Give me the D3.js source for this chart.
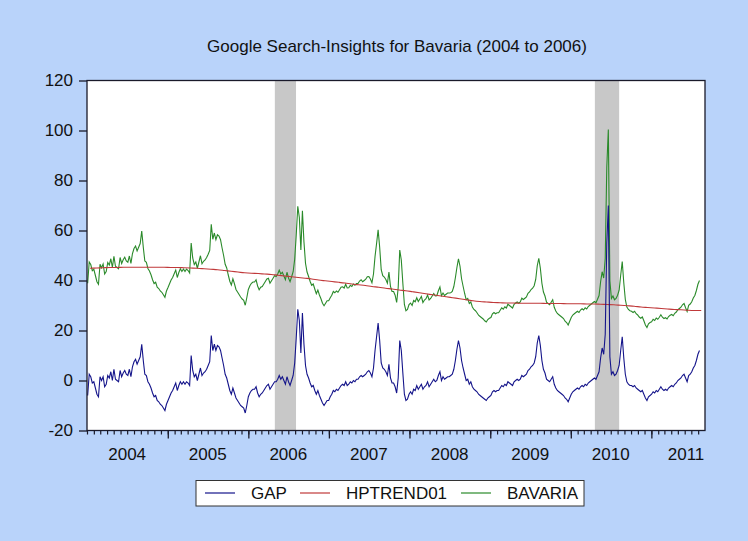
<!DOCTYPE html>
<html>
<head>
<meta charset="utf-8">
<script src="https://cdn.jsdelivr.net/npm/d3@7"></script>
<style>
  body { margin: 0; background: #b9d3fa; }
  svg { display: block; font-family: "Liberation Sans", Arial, sans-serif; }
</style>
</head>
<body>
<svg id="chart" width="748" height="541"></svg>
<script>
// weekly GAP values (BAVARIA minus HP trend), one array per year, first week 2004-01-04
const gap2004 = [-6, 2.5, 1.5, -1, -0.5, -3, -5.5, -6.5, 1.5, 0, 1.5, -2.5, -1.5, 2, 1, 3.5, 0, 4.5, 0.5, 0, -0.5, 4, 1.5, 3, 4, 2.5, 2, 4.5, 1.5, 5.5, 7.5, 8.5, 6.5, 8, 9.5, 14.5, 8, 2.5, 2, -0.5, -1.5, -3, -5, -6.5, -6, -8, -8.5, -9.5, -10, -11, -12, -9.5];
const gap2005 = [-8, -6.5, -5, -4, -2.5, -1, -4, -2, -0.5, -1.5, -0.5, -1.5, -0.5, -1, -2, 10, 4, 1.5, 2.5, 0, 2.5, 5, 2, 3, 3.5, 4.5, 6, 7.5, 18, 12, 14.5, 12, 14, 13.5, 12, 9, 6, 2.5, 1, -1.5, -4, -5.5, -3, -5, -7, -8, -9, -10, -10.5, -11, -13, -10];
const gap2006 = [-6.5, -5, -4, -3.5, -3.5, -2.5, -5, -6.5, -5.5, -5, -4, -3, -2, -1.5, -3.5, -2.5, -1.5, -0.5, -0.5, 0.5, 2, 0.5, 1.5, 0, -1.5, 1.5, -0.5, -2, 0, 2, 7, 17, 28.5, 24, 11, 27, 14.5, 6, 2.5, 1, -1, -2.5, -2, -4, -5.5, -4, -6, -7.5, -9, -10, -9, -8];
const gap2007 = [-8, -6.5, -5.5, -4, -4.5, -3.5, -4, -3, -2, -1.5, -2, -0.5, -2, -1.5, -0.5, -1, 0, -0.5, 0.5, 0.5, 1.5, 2, 1.5, 2, 2.5, 3.5, 4, 3, 1.5, 5, 12, 17.5, 23, 16, 7, 5, 4.5, 3.5, 2, 6.5, 1, -1, -1, -2.5, -5, 1, 16, 12, 3, -5.5, -8, -7.5];
const gap2008 = [-5.5, -4.5, -5.5, -3.5, -4, -2, -3.5, -2.5, -1.5, -3.5, -2.5, -2, -0.5, -2.5, -1.5, -0.5, 0.5, -0.5, 0, 2, 3.5, 0, 1.5, 0.5, 1, 1.5, 1.5, 2, 2.5, 4.5, 8, 12.5, 16, 13, 8, 5, 2.5, 0, 0.5, -1.5, -0.5, -2.5, -3.5, -4, -4.5, -5.5, -6, -6.5, -7, -7.5, -8, -7];
const gap2009 = [-6.5, -6, -4.5, -4, -4.5, -4, -4, -3, -2, -2.5, -1.5, -2, -0.5, -1, -1.5, -2, -0.5, 0, 0.5, 0, 0.5, 2, 1.5, 2, 2.5, 4, 4.5, 5.5, 6, 7, 9.5, 15, 18, 14, 8, 4.5, 3, 0.5, 0, -0.5, 0.5, 1.5, -1.5, -3, -4, -4.5, -5, -5.5, -6, -7, -7.5, -8.5];
const gap2010 = [-7, -5.5, -4.5, -4, -3.5, -3, -3.5, -2.5, -2, -2.5, -1.5, -2, -1, -0.5, 0, 0.5, 1, 0.5, 2, 3.5, 9, 13, 10.5, 18.5, 55, 70, 9.5, 2.5, 3.5, 2, 2.5, 4, 6, 12, 17.5, 9, 2.5, -0.5, -1.5, -2, -2, -2.5, -2, -3, -3.5, -4, -4.5, -4, -5.5, -7, -8, -6.5];
const gap2011 = [-6, -5.5, -4.5, -5, -4, -4.5, -3.5, -2.5, -3.5, -4, -3.5, -4, -3, -2.5, -2, -2.5, -1.5, -1, 0, 0.5, 1, 2, 2.5, 1, -0.5, 2, 2.5, 3.5, 5, 6, 8, 10.5, 12];

// monthly HP trend values
const trend2004 = [44.9, 45.0, 45.1, 45.2, 45.2, 45.3, 45.3, 45.3, 45.3, 45.3, 45.3, 45.3];
const trend2005 = [45.2, 45.2, 45.1, 45.0, 44.9, 44.7, 44.5, 44.3, 44.0, 43.7, 43.4, 43.1];
const trend2006 = [42.9, 42.8, 42.6, 42.4, 42.1, 41.8, 41.5, 41.2, 40.9, 40.6, 40.2, 39.9];
const trend2007 = [39.6, 39.3, 39.0, 38.6, 38.3, 38.0, 37.6, 37.3, 36.9, 36.6, 36.2, 35.9];
const trend2008 = [35.5, 35.1, 34.7, 34.3, 33.9, 33.5, 33.1, 32.7, 32.3, 31.9, 31.6, 31.4];
const trend2009 = [31.2, 31.1, 31.0, 31.0, 30.9, 30.9, 30.9, 30.9, 30.8, 30.8, 30.8, 30.7];
const trend2010 = [30.7, 30.7, 30.6, 30.6, 30.5, 30.4, 30.3, 30.1, 29.9, 29.7, 29.4, 29.2];
const trend2011 = [29.0, 28.8, 28.6, 28.4, 28.3, 28.1, 28.0, 28.0];

const yearLabels = ["2004", "2005", "2006", "2007", "2008", "2009", "2010", "2011"];
const yTicks = [-20, 0, 20, 40, 60, 80, 100, 120];
const seriesNames = ["GAP", "HPTREND01", "BAVARIA"];
const seriesColors = ["#14148a", "#c0393a", "#2a8a2a"];
const shadeStarts = ["2006-05-01", "2010-04-20"];
const shadeEnds = ["2006-08-05", "2010-08-08"];
const titleText = "Google Search-Insights for Bavaria (2004 to 2006)";

// build series
const gapAll = [].concat(gap2004, gap2005, gap2006, gap2007, gap2008, gap2009, gap2010, gap2011);
const trendAll = [].concat(trend2004, trend2005, trend2006, trend2007, trend2008, trend2009, trend2010, trend2011);
const weekDate = i => new Date(2004, 0, 4 + 7 * i);
const gapData = gapAll.map((v, i) => ({ date: weekDate(i), value: v }));
const trendData = trendAll.map((v, k) => ({ date: new Date(2004, k, 15), value: v }));
const bavData = gapData.map(d => {
  const k = (d.date.getFullYear() - 2004) * 12 + d.date.getMonth();
  return { date: d.date, value: d.value + trendAll[Math.min(k, trendAll.length - 1)] };
});

const plotLeft = 87, plotRight = 705, plotTop = 80.5, plotBottom = 430.5;
const fontSize = 17;
const svg = d3.select("#chart");

const x = d3.scaleTime().domain([new Date(2004, 0, 1), new Date(2011, 8, 1)]).range([plotLeft, plotRight]);
const y = d3.scaleLinear().domain([-20, 120]).range([plotBottom, plotTop]);

svg.append("rect").attr("width", 748).attr("height", 541).attr("fill", "#b9d3fa");

svg.append("text")
  .attr("x", 397).attr("y", 52)
  .attr("text-anchor", "middle")
  .attr("font-size", 17)
  .attr("fill", "#111")
  .text(titleText);

svg.append("rect")
  .attr("x", plotLeft).attr("y", plotTop)
  .attr("width", plotRight - plotLeft).attr("height", plotBottom - plotTop)
  .attr("fill", "#fff");

svg.selectAll(".shade")
  .data(shadeStarts)
  .join("rect")
  .attr("class", "shade")
  .attr("x", d => x(new Date(d)))
  .attr("y", plotTop)
  .attr("width", (d, i) => x(new Date(shadeEnds[i])) - x(new Date(d)))
  .attr("height", plotBottom - plotTop)
  .attr("fill", "#c8c8c8");

const line = d3.line().x(d => x(d.date)).y(d => y(d.value));
const trendLine = d3.line().x(d => x(d.date)).y(d => y(d.value)).curve(d3.curveMonotoneX);

svg.append("path").attr("d", line(bavData))
  .attr("fill", "none").attr("stroke", seriesColors[2]).attr("stroke-width", 1.1);
svg.append("path").attr("d", trendLine(trendData))
  .attr("fill", "none").attr("stroke", seriesColors[1]).attr("stroke-width", 1.2);
svg.append("path").attr("d", line(gapData))
  .attr("fill", "none").attr("stroke", seriesColors[0]).attr("stroke-width", 1.1);

// frame
svg.append("rect")
  .attr("x", plotLeft).attr("y", plotTop)
  .attr("width", plotRight - plotLeft).attr("height", plotBottom - plotTop)
  .attr("fill", "none").attr("stroke", "#1a1a2a").attr("stroke-width", 1.3);

// y axis
const yAxis = svg.append("g")
  .attr("transform", `translate(${plotLeft},0)`)
  .call(d3.axisLeft(y).tickValues(yTicks).tickSize(8).tickPadding(6).tickFormat(d => String(d)));
yAxis.select(".domain").remove();
yAxis.selectAll("line").attr("stroke", "#1a1a2a").attr("stroke-width", 1.3);
yAxis.selectAll("text").attr("font-size", fontSize).attr("fill", "#111")
  .attr("font-family", "Liberation Sans, Arial, sans-serif");

// x axis: monthly minor ticks, yearly major ticks
const months = d3.timeMonth.range(new Date(2004, 0, 1), new Date(2011, 8, 1));
const minor = svg.append("g")
  .attr("transform", `translate(0,${plotBottom})`)
  .call(d3.axisBottom(x).tickValues(months).tickSize(4).tickFormat(""));
minor.select(".domain").remove();
minor.selectAll("line").attr("stroke", "#1a1a2a").attr("stroke-width", 1.2);

const years = d3.timeYear.range(new Date(2005, 0, 1), new Date(2011, 0, 2));
const major = svg.append("g")
  .attr("transform", `translate(0,${plotBottom})`)
  .call(d3.axisBottom(x).tickValues(years).tickSize(8).tickFormat(""));
major.select(".domain").remove();
major.selectAll("line").attr("stroke", "#1a1a2a").attr("stroke-width", 1.3);

svg.selectAll(".ylab")
  .data(yearLabels)
  .join("text")
  .attr("class", "ylab")
  .attr("x", d => Math.min(x(new Date(+d, 6, 1)), plotRight - 19))
  .attr("y", 460)
  .attr("text-anchor", "middle")
  .attr("font-size", fontSize)
  .attr("fill", "#111")
  .text(d => d);

// legend
const legend = svg.append("g");
legend.append("rect")
  .attr("x", 196).attr("y", 480.5)
  .attr("width", 388).attr("height", 25.5)
  .attr("fill", "#fff").attr("stroke", "#333").attr("stroke-width", 1);
const legendX = [205, 300, 461];
const items = legend.selectAll(".item")
  .data(seriesNames)
  .join("g")
  .attr("class", "item")
  .attr("transform", (d, i) => `translate(${legendX[i]},493)`);
items.append("line")
  .attr("x1", 0).attr("x2", 30)
  .attr("stroke", (d, i) => seriesColors[i]).attr("stroke-width", 1.2);
items.append("text")
  .attr("x", 46).attr("y", 6)
  .attr("font-size", fontSize).attr("fill", "#111")
  .text(d => d);
</script>
</body>
</html>
